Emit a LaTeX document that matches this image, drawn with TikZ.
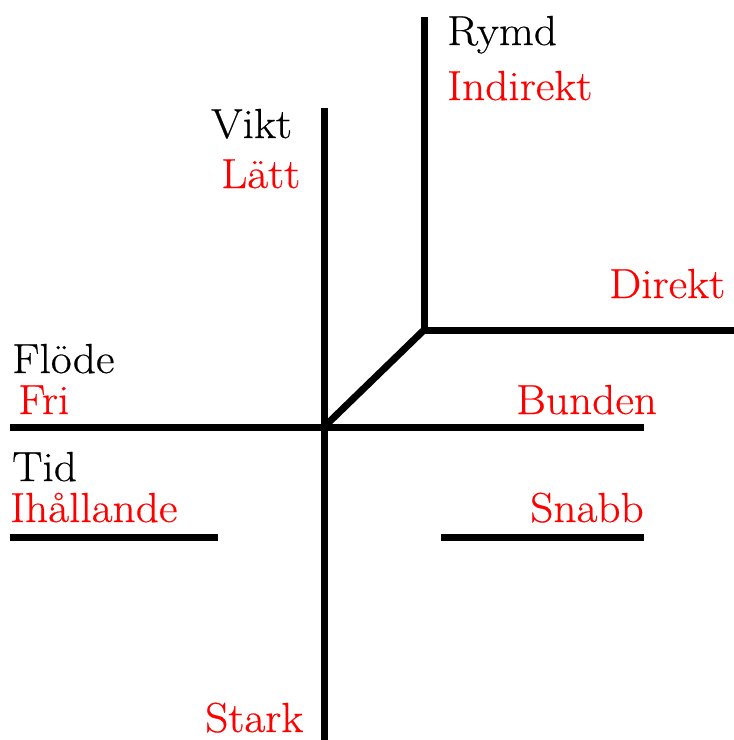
\documentclass[tikz,border=0pt]{standalone}
\usepackage{graphicx}
\usepackage{fontspec}
\setmainfont{Latin Modern Roman}[FakeBold=0.5, FakeStretch=1.08]
\tikzset{
  axis/.style={line width=7pt, line cap=butt},
  lbl/.style={anchor=base west, inner sep=0pt, font=\fontsize{42}{44}\selectfont},
  blk/.style={lbl, text=black},
  rd/.style={lbl, text=red},
}
\begin{document}
\begin{tikzpicture}[x=1pt,y=-1pt]
\useasboundingbox (0,0) rectangle (734,740);
% coordinates
\coordinate (vtop) at (324,108);
\coordinate (vbot) at (324,740);
\coordinate (center) at (324,427);
\coordinate (rtop) at (424,17);
\coordinate (corner) at (424,330);
\coordinate (rend) at (734,330);
\coordinate (hleft) at (10,427);
\coordinate (hright) at (644,427);
\coordinate (tlA) at (10,537);
\coordinate (tlB) at (218,537);
\coordinate (trA) at (441,537);
\coordinate (trB) at (644,537);
% lines
\draw[axis] (vtop) -- (vbot);
\draw[axis] (rtop) -- (corner) -- (rend);
\draw[axis, line join=miter] (corner) -- (center);
\draw[axis] (hleft) -- (hright);
\draw[axis] (tlA) -- (tlB);
\draw[axis] (trA) -- (trB);
% labels
\node[blk] (rymd) at (447,45) {Rymd};
\node[rd] (indirekt) at (447,100) {Indirekt};
\node[blk] (vikt) at (211,138) {Vikt};
\node[rd] (latt) at (221,188) {Lätt};
\node[rd] (direkt) at (609,298) {Direkt};
\node[blk] (flode) at (12,373) {Flöde};
\node[rd] (fri) at (18,414) {Fri};
\node[rd] (bunden) at (516,414) {Bunden};
\node[blk] (tid) at (12,481) {Tid};
\node[rd] (ihallande) at (10,522) {Ihållande};
\node[rd] (snabb) at (530,522) {Snabb};
\node[rd] (stark) at (205,732) {Stark};
\end{tikzpicture}
\end{document}
